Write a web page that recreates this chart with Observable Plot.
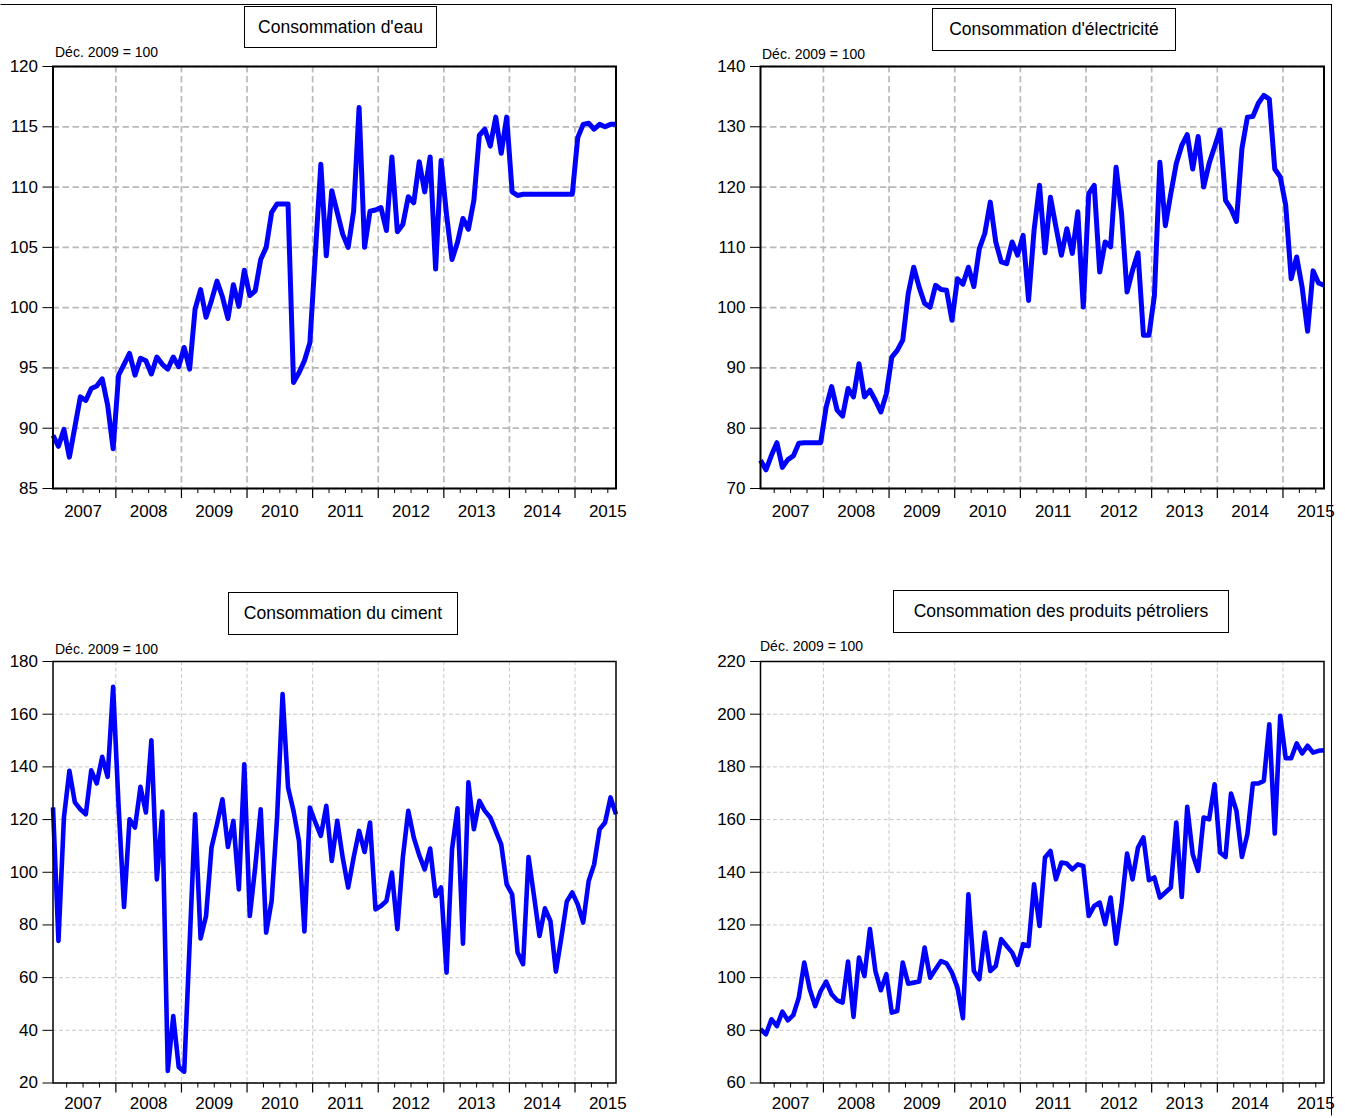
<!DOCTYPE html>
<html>
<head>
<meta charset="utf-8">
<script src="https://cdn.jsdelivr.net/npm/d3@7"></script>
<script src="https://cdn.jsdelivr.net/npm/@observablehq/plot@0.6"></script>
<style>
  html, body { margin: 0; padding: 0; background: #fff; }
  #page { position: relative; width: 1345px; height: 1118px; overflow: hidden; background: #fff;
          font-family: "Liberation Sans", Arial, sans-serif; color: #000; }
  .outer { position: absolute; left: 0px; top: 4px; width: 1332px; height: 1112px; border: 1px solid #000; border-left-color: #fff; border-bottom-color: #fff; box-sizing: border-box; }
  .titlebox { position: absolute; border: 1px solid #000; box-sizing: border-box; display: flex;
              align-items: center; justify-content: center; font-size: 17.5px; background: #fff; white-space: nowrap; }
  .sub { position: absolute; font-size: 14px; line-height: 16px; white-space: nowrap; }
  .panel { position: absolute; }
  .panel svg { overflow: visible; }
</style>
</head>
<body>
<div id="page">
  <div class="outer"></div>
</div>
<script>
// ---- Data (monthly, Jan 2007 – Aug 2015, Déc. 2009 = 100) ----
const startMonth = "2007-01";
const years = ["2007", "2008", "2009", "2010", "2011", "2012", "2013", "2014", "2015"];

const titles = ["Consommation d'eau", "Consommation d'électricité", "Consommation du ciment", "Consommation des produits pétroliers"];
const subtitle = "Déc. 2009 = 100";

const eau = [
  89.4, 88.5, 89.9, 87.6, 90.1, 92.6, 92.3, 93.3, 93.5, 94.1, 91.9, 88.3,
  94.4, 95.3, 96.2, 94.4, 95.8, 95.6, 94.5, 95.9, 95.3, 94.9, 95.9, 95.1,
  96.7, 94.9, 99.9, 101.5, 99.2, 100.6, 102.2, 100.9, 99.1, 101.9, 100.1, 103.1,
  101.0, 101.4, 104.0, 105.0, 107.9, 108.6, 108.6, 108.6, 93.8, 94.6, 95.6, 97.1,
  104.5, 111.9, 104.3, 109.7, 107.9, 106.1, 105.0, 108.0, 116.6, 105.0, 108.0, 108.1,
  108.3, 106.4, 112.5, 106.3, 106.9, 109.2, 108.7, 112.1, 109.6, 112.5, 103.2, 112.2,
  107.7, 104.0, 105.4, 107.4, 106.5, 108.9, 114.3, 114.8, 113.4, 115.8, 112.8, 115.8,
  109.6, 109.3, 109.4, 109.4, 109.4, 109.4, 109.4, 109.4, 109.4, 109.4, 109.4, 109.4,
  114.1, 115.2, 115.3, 114.8, 115.2, 115.0, 115.2, 115.2
];

const electricite = [
  74.7, 73.1, 75.5, 77.6, 73.5, 74.8, 75.4, 77.5, 77.6, 77.6, 77.6, 77.6,
  83.5, 86.9, 83.0, 82.0, 86.6, 85.2, 90.7, 85.2, 86.3, 84.6, 82.7, 85.7,
  91.8, 92.9, 94.6, 102.3, 106.7, 103.4, 100.7, 100.1, 103.7, 103.0, 102.9, 97.9,
  104.8, 103.9, 106.7, 103.5, 109.8, 112.3, 117.5, 110.9, 107.6, 107.3, 110.9, 108.7,
  112.0, 101.2, 112.8, 120.3, 109.1, 118.3, 113.4, 108.7, 113.1, 109.0, 115.9, 100.1,
  118.9, 120.3, 105.9, 110.9, 110.1, 123.3, 115.6, 102.6, 106.2, 109.1, 95.4, 95.4,
  102.0, 124.1, 113.6, 118.9, 123.9, 126.9, 128.7, 123.0, 128.4, 120.0, 123.9, 126.7,
  129.5, 117.8, 116.4, 114.3, 126.4, 131.6, 131.7, 133.9, 135.2, 134.6, 123.0, 121.7,
  117.0, 104.8, 108.4, 103.4, 96.1, 106.1, 104.1, 103.7
];

const ciment = [
  124.6, 73.9, 120.8, 138.5, 126.5, 123.9, 122.0, 138.7, 133.7, 143.8, 136.2, 170.4,
  125.0, 86.8, 120.1, 117.0, 132.4, 122.7, 150.1, 97.3, 123.0, 24.6, 45.4, 26.1,
  24.3, 73.0, 122.0, 74.9, 83.4, 109.4, 118.2, 127.7, 109.6, 119.5, 93.5, 141.0,
  83.4, 102.0, 123.9, 77.1, 89.1, 120.8, 167.6, 132.2, 123.3, 111.9, 77.5, 124.6,
  118.9, 113.8, 125.2, 104.3, 119.5, 105.6, 94.2, 105.6, 115.7, 107.7, 118.9, 85.9,
  87.2, 89.1, 99.9, 78.4, 105.6, 123.3, 113.2, 106.5, 101.1, 109.0, 91.0, 94.2,
  61.9, 108.7, 124.3, 72.9, 134.1, 116.3, 127.1, 123.3, 120.8, 115.7, 110.6, 95.4,
  91.6, 69.5, 65.1, 105.8, 91.0, 75.8, 86.3, 81.5, 62.3, 75.2, 88.9, 92.3,
  87.8, 80.9, 96.7, 103.0, 116.3, 118.9, 128.4, 122.0
];

const petrole = [
  80.4, 78.5, 84.2, 81.6, 87.1, 83.8, 85.8, 92.4, 105.7, 95.6, 89.2, 94.9,
  98.5, 93.7, 91.4, 90.5, 106.1, 85.1, 107.6, 100.6, 118.4, 102.5, 95.2, 101.3,
  86.7, 87.3, 105.7, 97.7, 98.1, 98.5, 111.4, 100.0, 103.2, 106.3, 105.4, 101.9,
  96.2, 84.6, 131.6, 102.5, 99.4, 117.1, 102.5, 104.4, 114.6, 112.0, 109.5, 104.8,
  112.7, 112.0, 135.4, 119.6, 145.6, 148.1, 137.3, 143.7, 143.3, 141.1, 143.0, 142.4,
  123.4, 127.2, 128.5, 120.3, 130.4, 112.9, 127.8, 147.1, 137.3, 149.4, 153.2, 137.0,
  138.0, 130.4, 132.3, 134.2, 158.9, 130.6, 164.8, 146.8, 140.5, 160.8, 160.1, 173.4,
  147.5, 145.8, 169.9, 163.3, 145.8, 154.4, 173.7, 173.7, 174.7, 196.2, 154.7, 199.4,
  183.3, 183.3, 188.9, 185.1, 188.0, 185.4, 186.1, 186.3
];

const yTicksEau = [85, 90, 95, 100, 105, 110, 115, 120];
const yTicksElec = [70, 80, 90, 100, 110, 120, 130, 140];
const yTicksCiment = [20, 40, 60, 80, 100, 120, 140, 160, 180];
const yTicksPetrole = [60, 80, 100, 120, 140, 160, 180, 200, 220];

// ---- Layout helpers ----
const n = eau.length;                 // 104 months
const lastIndex = n - 1;
const yearBounds = d3.range(11.5, lastIndex, 12);         // Dec/Jan boundaries
const quarterTicks = d3.range(2.5, lastIndex, 3).filter(q => !yearBounds.includes(q));
const yearLabels = years.map((y, k) => ({pos: k * 12 + 5.5, label: y}));

const page = document.getElementById("page");

function addPanel(cfg) {
  const heavy = cfg.heavy;
  const gridStyle = heavy
    ? {stroke: "#b9b9b9", strokeOpacity: 1, strokeWidth: 1.7, strokeDasharray: "6.5,3.5"}
    : {stroke: "#c8c8c8", strokeOpacity: 1, strokeWidth: 1, strokeDasharray: "4,2.5"};
  const svg = Plot.plot({
    width: cfg.width,
    height: cfg.height,
    marginLeft: cfg.mL, marginRight: cfg.mR, marginTop: cfg.mT, marginBottom: cfg.mB,
    style: {fontFamily: "'Liberation Sans', Arial, sans-serif", fontSize: "17px", color: "#000", background: "transparent", overflow: "visible"},
    x: {domain: [0, lastIndex], axis: null, label: null},
    y: {domain: [cfg.yTicks[0], cfg.yTicks[cfg.yTicks.length - 1]], axis: null, label: null},
    marks: [
      Plot.gridY(cfg.yTicks, gridStyle),
      Plot.gridX(yearBounds, gridStyle),
      Plot.lineY(cfg.values, {x: (d, i) => i, y: d => d, stroke: "#0000ff", strokeWidth: cfg.lw, strokeLinejoin: "round", strokeLinecap: "butt", curve: "linear"}),
      Plot.frame({stroke: "#000", strokeWidth: heavy ? 2 : 1.5}),
      Plot.axisY(cfg.yTicks, {tickSize: 10, tickPadding: 5, fontSize: 17, stroke: "#000", strokeWidth: 1, label: null}),
      Plot.axisX(yearBounds, {tickSize: 10, tickFormat: () => "", stroke: "#000", strokeWidth: 1.2, label: null}),
      Plot.axisX(quarterTicks, {tickSize: 5, tickFormat: () => "", stroke: "#000", strokeWidth: 1, label: null}),
      Plot.text(yearLabels, {x: "pos", text: "label", frameAnchor: "bottom", lineAnchor: "middle", dy: cfg.labelDy, fontSize: 17, fill: "#000"})
    ]
  });
  const wrap = document.createElement("div");
  wrap.className = "panel";
  wrap.style.left = cfg.left + "px";
  wrap.style.top = cfg.top + "px";
  wrap.appendChild(svg);
  page.appendChild(wrap);

  const tb = document.createElement("div");
  tb.className = "titlebox";
  tb.textContent = cfg.title;
  Object.assign(tb.style, {left: cfg.tb[0] + "px", top: cfg.tb[1] + "px", width: cfg.tb[2] + "px", height: cfg.tb[3] + "px"});
  page.appendChild(tb);

  const sb = document.createElement("div");
  sb.className = "sub";
  sb.textContent = subtitle;
  Object.assign(sb.style, {left: cfg.sub[0] + "px", top: cfg.sub[1] + "px"});
  page.appendChild(sb);
}

addPanel({values: eau, yTicks: yTicksEau, title: titles[0], heavy: true, lw: 5,
  left: 0, top: 56, width: 640, height: 472, mL: 52.5, mR: 24.5, mT: 10, mB: 40, labelDy: 23,
  tb: [244, 6, 193, 42], sub: [55, 44]});
addPanel({values: electricite, yTicks: yTicksElec, title: titles[1], heavy: true, lw: 5,
  left: 700, top: 56, width: 640, height: 472, mL: 60, mR: 16.5, mT: 10, mB: 40, labelDy: 23,
  tb: [932, 8, 244, 43], sub: [762, 46]});
addPanel({values: ciment, yTicks: yTicksCiment, title: titles[2], heavy: false, lw: 4.6,
  left: 0, top: 650.5, width: 640, height: 467.5, mL: 52.5, mR: 24.5, mT: 10, mB: 36, labelDy: 21,
  tb: [228, 592, 230, 43], sub: [55, 641]});
addPanel({values: petrole, yTicks: yTicksPetrole, title: titles[3], heavy: false, lw: 4.6,
  left: 700, top: 650.5, width: 640, height: 467.5, mL: 60, mR: 16.5, mT: 10, mB: 36, labelDy: 21,
  tb: [893, 590, 336, 43], sub: [760, 638]});
</script>
</body>
</html>
